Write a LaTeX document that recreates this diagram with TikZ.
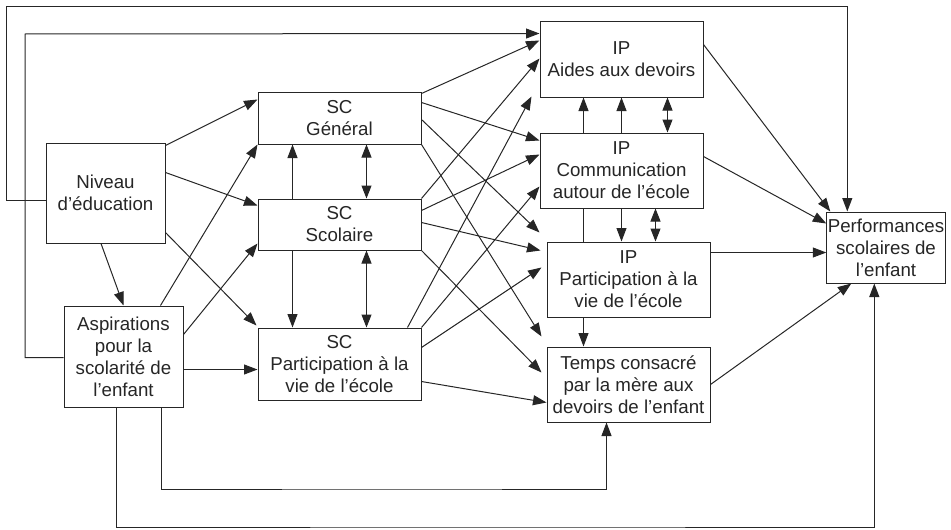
\documentclass[tikz,border=0pt]{standalone}
\usepackage{fontspec}
\setmainfont{Liberation Sans}
\usetikzlibrary{arrows.meta,calc,backgrounds}
\begin{document}
\begin{tikzpicture}[x=1pt,y=-1pt,
  box/.style={draw=black!85, line width=1pt, fill=white, align=center, inner sep=1pt,
    font=\fontsize{18.7}{22}\selectfont, text=black!85},
  arr/.style={draw=black!85, line width=1pt, -{Triangle[length=13.5pt,width=10pt]}},
  darr/.style={draw=black!85, line width=1pt, {Triangle[length=13pt,width=10pt]}-{Triangle[length=13pt,width=10pt]}}]
\useasboundingbox (0,0) rectangle (951,530);
\node[box, minimum width=119pt, minimum height=100pt] (niv) at (105.5,193) {Niveau\\d’éducation};
\node[box, minimum width=119pt, minimum height=101pt] (asp) at (123.5,356.5) {Aspirations\\pour la\\scolarité de\\l’enfant};
\node[box, minimum width=163pt, minimum height=52pt] (scg) at (339.5,118) {SC\\Général};
\node[box, minimum width=163pt, minimum height=51pt] (scs) at (339.5,224.5) {SC\\Scolaire};
\node[box, minimum width=163pt, minimum height=72pt] (scp) at (339.5,364) {SC\\Participation à la\\vie de l’école};
\node[box, minimum width=163pt, minimum height=76pt] (ipa) at (621.5,59) {IP\\Aides aux devoirs};
\node[box, minimum width=163pt, minimum height=75pt] (ipc) at (621.5,170.5) {IP\\Communication\\autour de l’école};
\node[box, minimum width=163pt, minimum height=75pt] (ipp) at (628.5,279.5) {IP\\Participation à la\\vie de l’école};
\node[box, minimum width=163pt, minimum height=75pt] (tmp) at (628.5,384.5) {Temps consacré\\par la mère aux\\devoirs de l’enfant};
\node[box, minimum width=118pt, minimum height=71pt] (perf) at (886,247.5) {Performances\\scolaires de\\l’enfant};
\coordinate (c1) at (6,6);
\coordinate (c2) at (25,34);
\coordinate (c3) at (500,527);
\coordinate (c4) at (400,489);
\begin{scope}[on background layer]
% Niveau
\draw[arr] ($(niv.north east)+(0,3)$) -- ($(scg.north west)+(0,8)$);
\draw[arr] ($(niv.north east)+(0,30)$) -- ($(scs.north west)+(0,7)$);
\draw[arr] ($(niv.south east)+(0,-11)$) -- ($(scp.north west)+(-1,-2)$);
\draw[arr] ($(niv.south)+(-4.5,0)$) -- (asp.north);
% Aspirations
\draw[arr] ($(asp.north east)+(-23,0)$) -- (scg.south west);
\draw[arr] ($(asp.north east)+(0,29)$) -- ($(scs.south west)+(0,-7)$);
\draw[arr] ($(asp.north east)+(0,64)$) -- ($(scp.north west)+(0,42)$);
% SC verticals
\draw[arr] ($(scs.north west)+(35,0)$) -- ($(scg.south west)+(35,0)$);
\draw[darr] ($(scg.south west)+(109,0)$) -- ($(scs.north west)+(109,0)$);
\draw[arr] ($(scs.south west)+(35,0)$) -- ($(scp.north west)+(35,0)$);
\draw[darr] ($(scs.south west)+(109,0)$) -- ($(scp.north west)+(109,0)$);
% SC General out
\draw[arr] ($(scg.north east)+(0,2)$) -- ($(ipa.north west)+(0,20)$);
\draw[arr] ($(scg.north east)+(0,11)$) -- ($(ipc.north west)+(0,8)$);
\draw[arr] ($(scg.north east)+(0,28)$) -- ($(ipp.north west)+(-7,-9)$);
\draw[arr] (scg.south east) -- ($(tmp.north west)+(-5,-10)$);
% SC Scolaire out
\draw[arr] (scs.north east) -- ($(ipa.north west)+(0,38)$);
\draw[arr] ($(scs.north east)+(0,12)$) -- ($(ipc.north west)+(0,22)$);
\draw[arr] ($(scs.north east)+(0,24)$) -- ($(ipp.north west)+(-6,9)$);
\draw[arr] (scs.south east) -- ($(tmp.north west)+(-5,26)$);
% SC Participation out
\draw[arr] ($(scp.north east)+(-14,0)$) -- ($(ipa.south west)+(-8,-1)$);
\draw[arr] (scp.north east) -- ($(ipc.north west)+(0,54)$);
\draw[arr] ($(scp.north east)+(0,20)$) -- ($(ipp.north west)+(-5,26)$);
\draw[arr] ($(scp.north east)+(0,54)$) -- ($(tmp.north west)+(0,56)$);
% IP verticals
\draw[arr] ($(ipp.north west)+(37,0)$) -- ($(ipa.south west)+(44,0)$);
\draw[arr] ($(ipc.north west)+(82,0)$) -- ($(ipa.south west)+(82,0)$);
\draw[darr] ($(ipa.south west)+(128,0)$) -- ($(ipc.north west)+(128,0)$);
\draw[arr] ($(ipc.south west)+(82,0)$) -- ($(ipp.north west)+(75,0)$);
\draw[darr] ($(ipc.south west)+(116,0)$) -- ($(ipp.north west)+(109,0)$);
\draw[arr] ($(ipp.south west)+(37,0)$) -- ($(tmp.north west)+(37,0)$);
% to Performances
\draw[arr] ($(ipa.north east)+(0,24)$) -- ($(perf.north west)+(4,0)$);
\draw[arr] ($(ipc.north east)+(0,24)$) -- ($(perf.north west)+(0,12)$);
\draw[arr] ($(ipp.north east)+(0,11)$) -- ($(perf.north west)+(0,41)$);
\draw[arr] ($(tmp.north east)+(0,38)$) -- ($(perf.south west)+(25,0)$);
% loops
\draw[arr] ($(niv.north west)+(0,58)$) -| (c1) -| ($(perf.north west)+(21,0)$);
\draw[arr] ($(asp.north west)+(0,52)$) -| (c2) -- ($(ipa.north west)+(0,13)$);
\draw[arr] ($(asp.south west)+(53,0)$) |- (c3) -| ($(perf.south west)+(48,0)$);
\draw[arr] ($(asp.south west)+(98,0)$) |- (c4) -| ($(tmp.south west)+(60,0)$);
\end{scope}
\end{tikzpicture}
\end{document}
